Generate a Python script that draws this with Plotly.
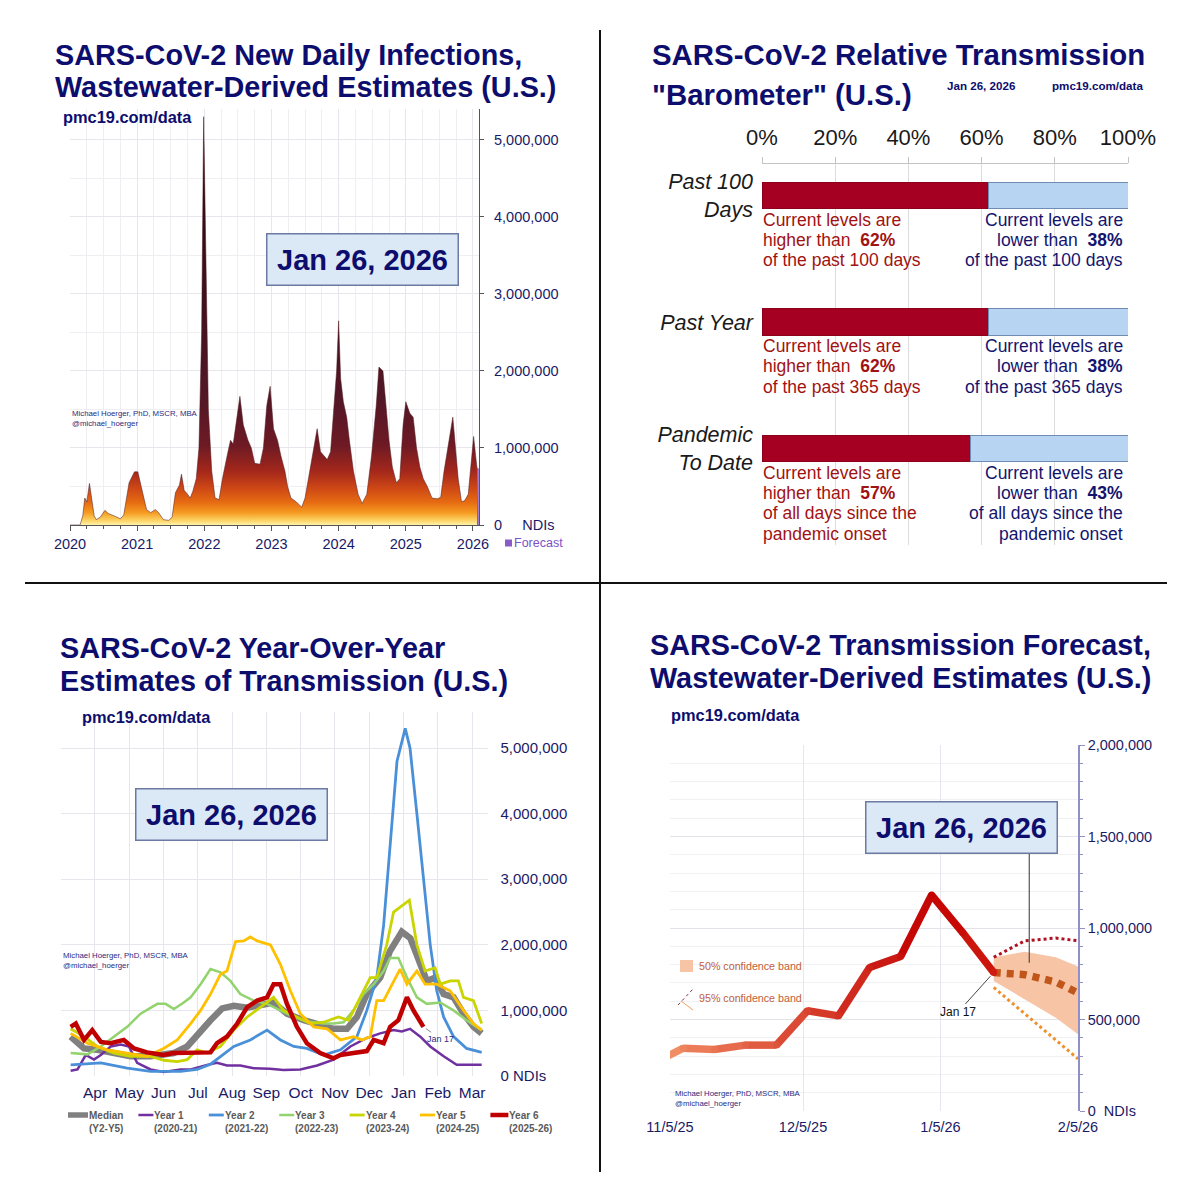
import plotly.graph_objects as go

W, H = 1200, 1200
def PX(x): return x / W
def PY(y): return 1 - y / H

FONT = "Liberation Sans, Arial, Helvetica, sans-serif"
NAVY = "#0d0d6e"
TICK = "#1a1a66"

# ---------------- Panel 1: new daily infections (decimal year, NDIs) ----------------
p1_year = [2020.00, 2020.15, 2020.19, 2020.22, 2020.25, 2020.29, 2020.33, 2020.36, 2020.39, 2020.45,
           2020.52, 2020.57, 2020.68, 2020.75, 2020.80, 2020.88, 2020.96, 2021.01, 2021.06, 2021.14,
           2021.20, 2021.27, 2021.32, 2021.39, 2021.47, 2021.52, 2021.57, 2021.63, 2021.66, 2021.70,
           2021.75, 2021.79, 2021.83, 2021.88, 2021.92, 2021.96, 2021.99, 2022.02, 2022.06, 2022.11,
           2022.16, 2022.22, 2022.27, 2022.34, 2022.39, 2022.43, 2022.47, 2022.53, 2022.58, 2022.65,
           2022.70, 2022.75, 2022.83, 2022.88, 2022.93, 2022.98, 2023.03, 2023.09, 2023.14, 2023.20,
           2023.24, 2023.29, 2023.37, 2023.45, 2023.50, 2023.57, 2023.63, 2023.68, 2023.73, 2023.78,
           2023.83, 2023.88, 2023.93, 2023.97, 2024.00, 2024.03, 2024.07, 2024.12, 2024.16, 2024.22,
           2024.29, 2024.35, 2024.42, 2024.49, 2024.56, 2024.60, 2024.66, 2024.70, 2024.75, 2024.80,
           2024.86, 2024.91, 2024.96, 2025.00, 2025.06, 2025.11, 2025.16, 2025.21, 2025.26, 2025.32,
           2025.39, 2025.47, 2025.52, 2025.57, 2025.65, 2025.70, 2025.74, 2025.78, 2025.83, 2025.88,
           2025.93, 2025.97, 2026.01, 2026.04, 2026.06]
p1_ndis = [0, 0, 120000, 350000, 300000, 540000, 300000, 120000, 70000, 100000,
           190000, 150000, 110000, 80000, 130000, 550000, 690000, 690000, 500000, 200000,
           160000, 200000, 160000, 70000, 60000, 100000, 420000, 520000, 660000, 450000,
           400000, 350000, 440000, 600000, 1000000, 2500000, 5300000, 3500000, 1500000, 700000,
           350000, 330000, 600000, 900000, 1100000, 1050000, 1300000, 1670000, 1300000, 1100000,
           1000000, 800000, 790000, 1000000, 1550000, 1800000, 1250000, 1100000, 900000, 700000,
           500000, 350000, 300000, 230000, 350000, 700000, 950000, 1250000, 950000, 900000,
           850000, 950000, 1500000, 2000000, 2650000, 1900000, 1600000, 1400000, 1100000, 700000,
           400000, 280000, 400000, 900000, 1550000, 2050000, 2000000, 1600000, 1100000, 750000,
           550000, 600000, 1300000, 1600000, 1450000, 1400000, 1000000, 750000, 600000, 500000,
           350000, 340000, 360000, 700000, 1100000, 1400000, 1000000, 600000, 300000, 320000,
           400000, 800000, 1150000, 900000, 740000]
p1_forecast_year = [2026.06, 2026.087]
p1_forecast_ndis = [740000, 725000]
p1_xticks = [2020, 2021, 2022, 2023, 2024, 2025, 2026]
p1_xlabels = ["2020", "2021", "2022", "2023", "2024", "2025", "2026"]
p1_yticks = [0, 1000000, 2000000, 3000000, 4000000, 5000000]
p1_ylabels = ["0     NDIs", "1,000,000", "2,000,000", "3,000,000", "4,000,000", "5,000,000"]

# ---------------- Panel 2: barometer ----------------
bar_rows = ["Past 100<br>Days", "Past Year", "Pandemic<br>To Date"]
bar_higher = [62, 62, 57]
bar_lower = [38, 38, 43]
bar_span = [["of the past 100 days"], ["of the past 365 days"], ["of all days since the", "pandemic onset"]]
bar_xticks = [0, 0.2, 0.4, 0.6, 0.8, 1.0]
bar_xlabels = ["0%", "20%", "40%", "60%", "80%", "100%"]

# ---------------- Panel 3: year-over-year (months since Mar 1, NDIs) ----------------
p3_median_x = [0.29, 0.68, 1.07, 1.55, 2.04, 2.62, 3.30, 3.69, 4.08, 4.37, 4.71, 5.05, 5.44, 5.83, 6.21,
               6.60, 7.09, 7.57, 7.96, 8.35, 8.64, 8.93, 9.32, 9.60, 9.95, 10.20, 10.39, 10.68, 10.92,
               11.17, 11.46, 11.75, 12.04, 12.28]
p3_median_y = [600000, 420000, 400000, 350000, 300000, 300000, 350000, 450000, 700000, 850000, 1030000,
               1070000, 1040000, 1070000, 1120000, 950000, 850000, 780000, 720000, 720000, 900000, 1250000,
               1500000, 1900000, 2200000, 2100000, 1850000, 1450000, 1500000, 1250000, 1200000, 950000,
               750000, 650000]
p3_y1_x = [0.29, 0.49, 0.73, 0.97, 1.17, 1.46, 1.75, 1.99, 2.23, 2.62, 3.00, 3.50, 3.79, 4.27, 4.56, 4.85,
           5.24, 5.63, 6.10, 6.50, 6.99, 7.48, 7.96, 8.45, 8.93, 9.32, 9.71, 9.95, 10.19, 10.49, 10.78,
           11.17, 11.55, 11.94, 12.28]
p3_y1_y = [80000, 100000, 320000, 250000, 320000, 450000, 480000, 450000, 200000, 100000, 60000, 100000,
           100000, 170000, 200000, 160000, 160000, 120000, 110000, 90000, 100000, 160000, 250000, 450000,
           580000, 650000, 700000, 680000, 720000, 600000, 450000, 300000, 170000, 170000, 170000]
p3_y2_x = [0.29, 1.17, 1.94, 2.62, 3.50, 3.98, 4.37, 4.66, 5.05, 5.53, 6.02, 6.41, 6.80, 7.18, 7.67, 8.16,
           8.64, 8.93, 9.22, 9.42, 9.61, 9.81, 10.05, 10.19, 10.39, 10.58, 10.78, 10.97, 11.17, 11.46,
           11.84, 12.28]
p3_y2_y = [170000, 200000, 120000, 70000, 70000, 100000, 180000, 300000, 450000, 550000, 700000, 550000,
           450000, 420000, 320000, 400000, 600000, 1000000, 1500000, 2300000, 3500000, 4800000, 5300000,
           5000000, 4000000, 3000000, 2000000, 1300000, 900000, 600000, 420000, 360000]
p3_y3_x = [0.29, 0.78, 1.17, 1.55, 1.94, 2.33, 2.82, 3.06, 3.30, 3.59, 3.79, 4.08, 4.37, 4.66, 4.95, 5.24,
           5.63, 6.02, 6.41, 6.80, 7.18, 7.67, 7.96, 8.25, 8.54, 8.83, 9.13, 9.42, 9.61, 9.85, 10.10,
           10.39, 10.68, 11.07, 11.46, 11.84, 12.28]
p3_y3_y = [350000, 330000, 450000, 600000, 750000, 950000, 1100000, 1100000, 1020000, 1120000, 1200000,
           1400000, 1630000, 1580000, 1450000, 1250000, 1150000, 1100000, 1000000, 900000, 830000, 800000,
           800000, 820000, 1000000, 1250000, 1400000, 1600000, 1800000, 1800000, 1500000, 1200000,
           1100000, 1120000, 1000000, 850000, 700000]
p3_y4_x = [0.29, 0.68, 1.07, 1.55, 2.04, 2.62, 3.01, 3.40, 3.69, 3.98, 4.27, 4.66, 5.05, 5.44, 5.83, 6.21,
           6.50, 6.89, 7.28, 7.67, 8.10, 8.40, 8.64, 9.03, 9.22, 9.51, 9.71, 9.95, 10.17, 10.39, 10.63,
           10.92, 11.07, 11.36, 11.60, 11.75, 12.04, 12.28]
p3_y4_y = [720000, 600000, 450000, 350000, 300000, 300000, 240000, 220000, 250000, 400000, 350000,
           450000, 700000, 900000, 1050000, 1200000, 1000000, 900000, 800000, 820000, 900000, 850000,
           1100000, 1500000, 1500000, 2000000, 2500000, 2600000, 2680000, 2000000, 1600000, 1650000,
           1400000, 1450000, 1450000, 1200000, 1150000, 800000]
p3_y5_x = [0.29, 0.78, 1.36, 1.94, 2.52, 3.00, 3.40, 3.79, 4.08, 4.37, 4.66, 4.85, 5.10, 5.34, 5.53, 5.73,
           6.12, 6.41, 6.70, 6.99, 7.38, 7.77, 8.16, 8.54, 8.79, 9.03, 9.22, 9.42, 9.71, 9.90, 10.10,
           10.39, 10.63, 10.97, 11.36, 11.75, 12.04, 12.28]
p3_y5_y = [650000, 500000, 400000, 350000, 300000, 420000, 550000, 800000, 1000000, 1250000, 1550000,
           1600000, 2050000, 2060000, 2120000, 2060000, 2000000, 1700000, 1300000, 950000, 750000, 720000,
           550000, 600000, 550000, 600000, 1150000, 1150000, 1450000, 1630000, 1400000, 1600000, 1400000,
           1400000, 1300000, 1000000, 800000, 700000]
p3_y6_x = [0.29, 0.44, 0.68, 0.92, 1.17, 1.46, 1.84, 2.14, 2.52, 3.00, 3.30, 3.69, 3.98, 4.37, 4.56, 4.85,
           5.15, 5.44, 5.73, 6.02, 6.21, 6.41, 6.60, 6.89, 7.18, 7.57, 7.96, 8.16, 8.54, 8.93, 9.13, 9.42,
           9.61, 9.85, 10.10, 10.29, 10.58]
p3_y6_y = [750000, 800000, 550000, 700000, 520000, 500000, 550000, 420000, 360000, 320000, 350000, 350000,
           360000, 360000, 500000, 600000, 800000, 1050000, 1150000, 1200000, 1400000, 1400000, 1100000,
           750000, 500000, 350000, 270000, 320000, 350000, 380000, 550000, 500000, 750000, 850000,
           1200000, 1000000, 750000]
p3_xticks = [1, 2, 3, 4, 5, 6, 7, 8, 9, 10, 11, 12]
p3_xlabels = ["Apr", "May", "Jun", "Jul", "Aug", "Sep", "Oct", "Nov", "Dec", "Jan", "Feb", "Mar"]
p3_yticks = [0, 1000000, 2000000, 3000000, 4000000, 5000000]
p3_ylabels = ["0 NDIs", "1,000,000", "2,000,000", "3,000,000", "4,000,000", "5,000,000"]
p3_series = [  # name, sublabel, x, y, color, width
    ("Median", "(Y2-Y5)", p3_median_x, p3_median_y, "#808080", 6.5),
    ("Year 1", "(2020-21)", p3_y1_x, p3_y1_y, "#7030a0", 2.5),
    ("Year 2", "(2021-22)", p3_y2_x, p3_y2_y, "#4a90d9", 2.8),
    ("Year 3", "(2022-23)", p3_y3_x, p3_y3_y, "#92d36e", 2.5),
    ("Year 4", "(2023-24)", p3_y4_x, p3_y4_y, "#c9d400", 2.8),
    ("Year 5", "(2024-25)", p3_y5_x, p3_y5_y, "#ffc000", 2.8),
    ("Year 6", "(2025-26)", p3_y6_x, p3_y6_y, "#c00000", 4.5),
]

# ---------------- Panel 4: forecast ----------------
p4_dates = ["2025-11-01", "2025-11-08", "2025-11-15", "2025-11-22", "2025-11-29", "2025-12-06",
            "2025-12-13", "2025-12-20", "2025-12-27", "2026-01-03", "2026-01-10", "2026-01-17"]
p4_ndis = [259000, 343000, 336000, 360000, 360000, 548000, 520000, 784000, 844000, 1180000, 975000, 757000]
p4_fc_dates = ["2026-01-17", "2026-01-24", "2026-01-31", "2026-02-05"]
p4_fc_mid = [757000, 745000, 705000, 645000]
p4_fc_lo50 = [710000, 610000, 510000, 420000]
p4_fc_hi50 = [840000, 870000, 840000, 790000]
p4_fc_lo95 = [675000, 530000, 390000, 285000]
p4_fc_hi95 = [840000, 930000, 945000, 930000]
p4_xticks = ["2025-11-05", "2025-12-05", "2026-01-05", "2026-02-05"]
p4_xlabels = ["11/5/25", "12/5/25", "1/5/26", "2/5/26"]
p4_yticks = [0, 500000, 1000000, 1500000, 2000000]
p4_ylabels = ["0  NDIs", "500,000", "1,000,000", "1,500,000", "2,000,000"]

DATE_LABEL = "Jan 26, 2026"
AUTHOR = "Michael Hoerger, PhD, MSCR, MBA<br>@michael_hoerger"
SITE = "pmc19.com/data"

fig = go.Figure()

# ---- Panel 1 traces
P1_SCALE = [[0.0, "#fff2a8"], [0.012, "#fcd060"], [0.03, "#f59a20"], [0.055, "#e66a12"],
            [0.09, "#cc4616"], [0.13, "#a3271b"], [0.19, "#6e1a24"], [0.3, "#531726"],
            [0.55, "#3e1020"], [1.0, "#260810"]]
fig.add_trace(go.Scatter(
    x=p1_year, y=p1_ndis, mode="lines", fill="tozeroy",
    line=dict(color="rgba(80,25,30,0.65)", width=0.8),
    fillgradient=dict(type="vertical", start=0, stop=5400000, colorscale=P1_SCALE),
    xaxis="x", yaxis="y", showlegend=False, hoverinfo="skip"))
fig.add_trace(go.Scatter(
    x=p1_forecast_year, y=p1_forecast_ndis, mode="lines", fill="tozeroy",
    line=dict(color="#8a5cc8", width=1), fillcolor="#8a5cc8",
    xaxis="x", yaxis="y", showlegend=False, hoverinfo="skip"))

# ---- Panel 2 traces
fig.add_trace(go.Bar(
    y=list(range(len(bar_rows))), x=[v / 100 for v in bar_higher], orientation="h", width=0.213,
    marker=dict(color="#a50021", line=dict(color="#8c001b", width=1)),
    xaxis="x2", yaxis="y2", showlegend=False, hoverinfo="skip"))
fig.add_trace(go.Bar(
    y=list(range(len(bar_rows))), x=[v / 100 for v in bar_lower], orientation="h", width=0.213,
    marker=dict(color="#b7d5f3", line=dict(color="#6f8db3", width=1)),
    xaxis="x2", yaxis="y2", showlegend=False, hoverinfo="skip"))

# ---- Panel 3 traces
for name, sub, xs, ys, col, wd in p3_series:
    fig.add_trace(go.Scatter(
        x=xs, y=ys, mode="lines", name=name, line=dict(color=col, width=wd),
        xaxis="x3", yaxis="y3", showlegend=False, hoverinfo="skip"))

# ---- Panel 4 traces
fig.add_trace(go.Scatter(x=p4_fc_dates, y=p4_fc_lo50, mode="lines", line=dict(width=0),
                         xaxis="x4", yaxis="y4", showlegend=False, hoverinfo="skip"))
fig.add_trace(go.Scatter(x=p4_fc_dates, y=p4_fc_hi50, mode="lines", line=dict(width=0),
                         fill="tonexty", fillcolor="#f7c5a6",
                         xaxis="x4", yaxis="y4", showlegend=False, hoverinfo="skip"))
fig.add_trace(go.Scatter(x=p4_fc_dates, y=p4_fc_hi95, mode="lines",
                         line=dict(color="#b01020", width=3, dash="dot"),
                         xaxis="x4", yaxis="y4", showlegend=False, hoverinfo="skip"))
fig.add_trace(go.Scatter(x=p4_fc_dates, y=p4_fc_lo95, mode="lines",
                         line=dict(color="#f0902a", width=3, dash="dot"),
                         xaxis="x4", yaxis="y4", showlegend=False, hoverinfo="skip"))
fig.add_trace(go.Scatter(x=p4_fc_dates, y=p4_fc_mid, mode="lines",
                         line=dict(color="#c0561c", width=7.5, dash="7px,6px"),
                         xaxis="x4", yaxis="y4", showlegend=False, hoverinfo="skip"))


def hex2rgb(h):
    h = h.lstrip("#")
    return tuple(int(h[i:i + 2], 16) for i in (0, 2, 4))


def mix(c1, c2, f):
    a, b = hex2rgb(c1), hex2rgb(c2)
    return "rgb(%d,%d,%d)" % tuple(round(a[i] + (b[i] - a[i]) * f) for i in range(3))


LIGHT, DARK, END = "#f4956a", "#c20000", "#d01c10"
peak_i = p4_ndis.index(max(p4_ndis))
n4 = len(p4_dates)
pt_colors = []
for i in range(n4):
    if i <= peak_i:
        pt_colors.append(mix(LIGHT, DARK, i / peak_i))
    else:
        pt_colors.append(mix(DARK, END, (i - peak_i) / (n4 - 1 - peak_i)))
for i in range(n4 - 1):
    if i < peak_i:
        col = mix(LIGHT, DARK, min(1.0, (i + 0.5) / peak_i))
    else:
        col = mix(DARK, END, (i + 0.5 - peak_i) / (n4 - 1 - peak_i))
    fig.add_trace(go.Scatter(x=p4_dates[i:i + 2], y=p4_ndis[i:i + 2], mode="lines",
                             line=dict(color=col, width=7.5),
                             xaxis="x4", yaxis="y4", showlegend=False, hoverinfo="skip"))
fig.add_trace(go.Scatter(x=p4_dates, y=p4_ndis, mode="markers",
                         marker=dict(color=pt_colors, size=7, line=dict(width=0)),
                         xaxis="x4", yaxis="y4", showlegend=False, hoverinfo="skip"))

# ---------------- Axes ----------------
GRID = "#e6e6ec"
tickfont = dict(family=FONT, size=14.5, color=TICK)
fig.update_layout(
    width=W, height=H, margin=dict(l=0, r=0, t=0, b=0, autoexpand=False),
    paper_bgcolor="white", plot_bgcolor="white", showlegend=False,
    font=dict(family=FONT), barmode="stack",
    # Panel 1
    xaxis=dict(domain=[PX(70), PX(479)], anchor="y", range=[2020, 2026.09], automargin=False,
               tickvals=p1_xticks, ticktext=p1_xlabels, tickfont=tickfont,
               showline=True, linecolor="#555555", linewidth=1.2, ticks="outside", ticklen=5,
               tickcolor="#555555", showgrid=True, gridcolor=GRID, zeroline=False,
               minor=dict(dtick=0.25, tick0=2020, ticks="outside", ticklen=3, tickcolor="#555555",
                          showgrid=True, gridcolor="#efeff3")),
    yaxis=dict(domain=[PY(525), PY(109)], anchor="x", side="right", range=[0, 5400000], automargin=False,
               tickvals=p1_yticks, ticktext=p1_ylabels, tickfont=tickfont,
               showline=True, linecolor="#555555", linewidth=1.2, ticks="outside", ticklen=4,
               tickcolor="#555555", showgrid=True, gridcolor=GRID, zeroline=False,
               ticklabelstandoff=7,
               minor=dict(dtick=500000, ticks="", showgrid=True, gridcolor="#efeff3")),
    # Panel 2
    xaxis2=dict(domain=[PX(762), PX(1128)], anchor="y2", side="top", range=[0, 1], automargin=False,
                tickvals=bar_xticks, ticktext=bar_xlabels,
                tickfont=dict(family=FONT, size=22, color="#1a1a1a"),
                showline=True, linecolor="#c4c4c4", ticks="outside", ticklen=6, tickcolor="#c4c4c4",
                showgrid=True, gridcolor="#dcdcdc", zeroline=False, ticklabelstandoff=3),
    yaxis2=dict(domain=[PY(545), PY(164)], anchor="x2", range=[2.763, -0.249], automargin=False,
                tickvals=list(range(len(bar_rows))), ticktext=bar_rows,
                tickfont=dict(family=FONT, size=21.5, color="#1a1a1a", style="italic"),
                showgrid=False, zeroline=False, showline=False, ticks="", ticklabelstandoff=8),
    # Panel 3
    xaxis3=dict(domain=[PX(60.7), PX(487.5)], anchor="y3", range=[0, 12.45], automargin=False,
                tickvals=p3_xticks, ticktext=p3_xlabels,
                tickfont=dict(family=FONT, size=15.5, color=TICK),
                showgrid=True, gridcolor=GRID, zeroline=False, showline=False, ticks="",
                ticklabelstandoff=5),
    yaxis3=dict(domain=[PY(1076), PY(712)], anchor="x3", side="right", range=[0, 5550000],
                automargin=False, tickvals=p3_yticks, ticktext=p3_ylabels,
                tickfont=dict(family=FONT, size=15, color=TICK),
                showgrid=True, gridcolor=GRID, zeroline=False, showline=False, ticks="",
                ticklabelstandoff=12),
    # Panel 4
    xaxis4=dict(domain=[PX(670), PX(1078)], anchor="y4", type="date", automargin=False,
                range=["2025-11-05", "2026-02-05"], tickvals=p4_xticks, ticktext=p4_xlabels,
                tickfont=dict(family=FONT, size=14.5, color=TICK),
                showgrid=True, gridcolor=GRID, zeroline=False, showline=False, ticks="",
                ticklabelstandoff=5),
    yaxis4=dict(domain=[PY(1111), PY(745)], anchor="x4", side="right", range=[0, 2000000],
                automargin=False, tickvals=p4_yticks, ticktext=p4_ylabels,
                tickfont=dict(family=FONT, size=14.5, color=TICK),
                showline=True, linecolor="#9090c8", linewidth=1.5, ticks="outside", ticklen=5,
                tickcolor="#9090c8", showgrid=True, gridcolor="#e2e2e8", zeroline=False,
                ticklabelstandoff=0,
                minor=dict(dtick=100000, ticks="outside", ticklen=3, tickcolor="#9090c8",
                           showgrid=True, gridcolor="#f1f1f4")),
)


def note(x, y, text, size, color=NAVY, xanchor="left", yanchor="middle", align="left", **kw):
    fig.add_annotation(x=PX(x), y=PY(y), xref="paper", yref="paper", text=text, showarrow=False,
                       font=dict(family=FONT, size=size, color=color), xanchor=xanchor,
                       yanchor=yanchor, align=align, **kw)


def date_box(cx, cy):
    fig.add_annotation(x=PX(cx), y=PY(cy), xref="paper", yref="paper", text="<b>%s</b>" % DATE_LABEL,
                       showarrow=False, font=dict(family=FONT, size=29, color=NAVY),
                       bgcolor="#dbe8f6", bordercolor="#6c7aa3", borderwidth=1.5, borderpad=7,
                       width=176, height=36, xanchor="center", yanchor="middle")


# Titles
note(53, 55, "<b>SARS-CoV-2 New Daily Infections,</b>", 28.8)
note(53, 87, "<b>Wastewater-Derived Estimates (U.S.)</b>", 28.8)
note(650, 55, "<b>SARS-CoV-2 Relative Transmission</b>", 29.4)
note(650, 95, "<b>\"Barometer\" (U.S.)</b>", 29.4)
note(58, 648, "<b>SARS-CoV-2 Year-Over-Year</b>", 28.8)
note(58, 681, "<b>Estimates of Transmission (U.S.)</b>", 28.8)
note(648, 645, "<b>SARS-CoV-2 Transmission Forecast,</b>", 28.8)
note(648, 678, "<b>Wastewater-Derived Estimates (U.S.)</b>", 28.8)

# Site / author labels
note(61, 117, "<b>%s</b>" % SITE, 16.4)
note(80, 717, "<b>%s</b>" % SITE, 16.4)
note(669, 715, "<b>%s</b>" % SITE, 16.4)
note(945, 86, "<b>%s</b>" % DATE_LABEL, 11.6)
note(1050, 86, "<b>%s</b>" % SITE, 11.6)
note(70, 418, AUTHOR, 7.8, color="#2b2b80")
note(61, 960, AUTHOR, 7.8, color="#2b2b80")
note(673, 1098, AUTHOR, 7.8, color="#2b2b80")

# Date boxes
date_box(362, 259)
date_box(231, 814)
date_box(961, 828)

# Panel 1 forecast legend
fig.add_shape(type="rect", xref="paper", yref="paper", x0=PX(505), x1=PX(512), y0=PY(546.5),
              y1=PY(539.5), fillcolor="#8a5cc8", line=dict(width=0))
note(512, 543, "Forecast", 12.5, color="#7b52c7")

# Panel 2 bar texts (one annotation per line for tight line spacing)
for i in range(len(bar_rows)):
    left_lines = ["Current levels are", "higher than  <b>%d%%</b>" % bar_higher[i]] + bar_span[i]
    right_lines = ["Current levels are", "lower than  <b>%d%%</b>" % bar_lower[i]] + bar_span[i]
    for j, (lt, rt) in enumerate(zip(left_lines, right_lines)):
        shift = -(10.5 + 20.4 * j)
        fig.add_annotation(x=0, y=i + 0.107, xref="x2", yref="y2", xanchor="left", yanchor="middle",
                           xshift=-1, yshift=shift, align="left", showarrow=False, text=lt,
                           font=dict(family=FONT, size=17.5, color="#a11212"))
        fig.add_annotation(x=1, y=i + 0.107, xref="x2", yref="y2", xanchor="right", yanchor="middle",
                           xshift=-3, yshift=shift, align="right", showarrow=False, text=rt,
                           font=dict(family=FONT, size=17.5, color="#14146e"))

# Panel 3 annotations and legend
fig.add_annotation(x=p3_y6_x[-1], y=p3_y6_y[-1], xref="x3", yref="y3", text="Jan 17",
                   showarrow=True, arrowhead=0, arrowwidth=0.7, arrowcolor="#555555",
                   ax=17, ay=12, standoff=3, font=dict(family=FONT, size=9, color="#2b2b80"))
for k, (name, sub, xs, ys, col, wd) in enumerate(p3_series):
    x0 = 68 + k * 70.4
    ln = 20 if k == 0 else (18 if k == len(p3_series) - 1 else 15)
    fig.add_shape(type="line", xref="paper", yref="paper", x0=PX(x0), x1=PX(x0 + ln),
                  y0=PY(1115), y1=PY(1115), line=dict(color=col, width=min(wd, 5.5)))
    note(x0 + ln - 1, 1121.5, "<b>%s</b><br><b>%s</b>" % (name, sub), 10, color="#5a5a5a")

# Panel 4 annotations and legend
fig.add_annotation(x=p4_dates[-1], y=p4_ndis[-1], xref="x4", yref="y4", text="Jan 17",
                   showarrow=True, arrowhead=0, arrowwidth=0.9, arrowcolor="#333333",
                   ax=-36, ay=40, standoff=5, font=dict(family=FONT, size=12, color="#111111"))
fig.add_shape(type="line", xref="x4", yref="y4", x0="2026-01-25", x1="2026-01-25",
              y0=810000, y1=1410000, line=dict(color="#333333", width=1))
fig.add_shape(type="rect", xref="paper", yref="paper", x0=PX(680), x1=PX(693), y0=PY(972),
              y1=PY(960), fillcolor="#f7c5a6", line=dict(width=0))
note(697, 966, "50% confidence band", 10.7, color="#c0603a")
fig.add_shape(type="line", xref="paper", yref="paper", x0=PX(678), x1=PX(693), y0=PY(1005),
              y1=PY(989), line=dict(color="#8a3040", width=1, dash="dot"))
fig.add_shape(type="line", xref="paper", yref="paper", x0=PX(681), x1=PX(693), y0=PY(1001),
              y1=PY(1010), line=dict(color="#f0a060", width=1))
note(697, 998, "95% confidence band", 10.7, color="#c0603a")

# Divider lines
fig.add_shape(type="line", xref="paper", yref="paper", x0=PX(600), x1=PX(600), y0=PY(30),
              y1=PY(1172), line=dict(color="#111111", width=2))
fig.add_shape(type="line", xref="paper", yref="paper", x0=PX(25), x1=PX(1167), y0=PY(583),
              y1=PY(583), line=dict(color="#111111", width=2))

fig.write_html("out.html", config={"displayModeBar": False},
               post_script="document.body.style.margin='0';")
